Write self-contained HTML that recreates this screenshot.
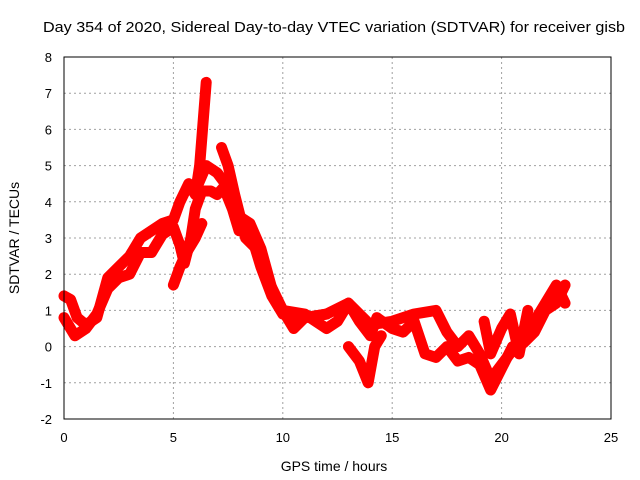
<!DOCTYPE html>
<html><head><meta charset="utf-8"><style>
body{margin:0;background:#fff}
svg{display:block;font-family:"Liberation Sans",sans-serif}
</style></head><body>
<svg id="chart" width="640" height="480">
<text x="43" y="32" font-size="15" textLength="582" lengthAdjust="spacingAndGlyphs">Day 354 of 2020, Sidereal Day-to-day VTEC variation (SDTVAR) for receiver gisb</text>
<text x="334" y="471" font-size="14" text-anchor="middle">GPS time / hours</text>
<text transform="translate(19,238) rotate(-90)" font-size="14" text-anchor="middle">SDTVAR / TECUs</text>
<g id="grid"></g><g id="ticks"></g><g id="series"></g>
<rect x="64" y="57" width="547" height="362" fill="none" stroke="#000" stroke-width="1"/>
</svg>
<script>
const xTicks=[0,5,10,15,20,25];
const yTicks=[-2,-1,0,1,2,3,4,5,6,7,8];
const traceA=[[0,1.4],[0.3,1.3],[0.6,0.8],[1,0.6],[1.5,0.8],[2,1.9],[2.5,2.2],[3,2.5],[3.5,3.0],[4,3.2],[4.5,3.4],[5,3.5],[5.3,4.0],[5.7,4.5],[6,4.2],[6.2,5.0],[6.5,7.3]];
const traceB=[[0,0.8],[0.5,0.3],[1,0.5],[1.5,0.9],[2,1.6],[2.5,1.9],[3,2.0],[3.5,2.6],[4,2.6],[4.5,3.1],[5,3.3],[5.3,2.8],[5.5,2.3],[5.8,3.0],[6,3.8],[6.3,4.3],[6.7,4.3],[7,4.2],[7.3,4.4],[7.7,3.8],[8,3.2],[8.5,3.2],[9,2.2],[9.5,1.4],[10,0.9],[11,0.8],[12,0.9]];
const traceC=[[5,1.7],[5.3,2.2],[5.6,2.6],[6,3.0],[6.3,3.4]];
const traceD=[[6,4.3],[6.5,5.0],[7,4.8],[7.5,4.4],[8,3.6],[8.5,3.4],[9,2.7],[9.5,1.6],[10,1.0],[10.5,0.5],[11,0.8],[12,0.9],[13,1.2],[13.5,0.9],[14,0.6],[15,0.7],[15.5,0.8],[16,0.9],[17,1.0],[17.5,0.4],[18,0.0],[18.5,0.3],[19,-0.2],[19.5,-0.9],[20,-0.5],[20.5,-0.1],[21,0.2],[21.5,0.7],[22,1.2],[22.5,1.7],[22.9,1.2]];
const traceE=[[7.2,5.5],[7.5,5.0],[7.8,4.2],[8.3,3.0],[8.8,2.7],[9.2,2.0],[10,1.0],[11,0.9],[12,0.5],[12.5,0.7],[13,1.2],[13.5,0.7],[14,0.3],[14.3,0.8],[15,0.5],[15.5,0.4],[16,0.7],[16.5,-0.2],[17,-0.3],[17.5,0.0],[18,-0.4],[18.5,-0.3],[19,-0.5],[19.5,-1.2],[20,-0.6],[20.5,0.0],[21,0.1],[21.5,0.4],[22,1.0],[22.5,1.2],[22.9,1.7]];
const traceF=[[13,0.0],[13.5,-0.4],[13.9,-1.0],[14.2,0.0],[14.5,0.3]];
const traceG=[[19.2,0.7],[19.5,-0.2],[20,0.5],[20.4,0.9],[20.8,-0.2],[21.2,1.0]];
const traces=[traceA,traceB,traceC,traceD,traceE,traceF,traceG];
const X=v=>64+v*(547/25), Y=v=>419-(v+2)*(362/10);
const NS="http://www.w3.org/2000/svg";
const g=document.getElementById('grid'),t=document.getElementById('ticks'),s=document.getElementById('series');
function mk(tag,at,p){const e=document.createElementNS(NS,tag);for(const k in at)e.setAttribute(k,at[k]);p.appendChild(e);return e;}
xTicks.forEach(v=>{
 if(v>0&&v<25){const l=mk('line',{x1:X(v),x2:X(v),y1:57,y2:419,stroke:'#a0a0a0','stroke-dasharray':'2,3'},g);
 
 }
 const tx=mk('text',{x:X(v),y:442,'font-size':13,'text-anchor':'middle'},t);tx.textContent=v;
 
 
});
yTicks.forEach(v=>{
 if(v>-2&&v<8){const l=mk('line',{x1:64,x2:611,y1:Y(v),y2:Y(v),stroke:'#a0a0a0','stroke-dasharray':'2,3'},g);
 
 }
 const tx=mk('text',{x:52,y:Y(v)+5,'font-size':13,'text-anchor':'end'},t);tx.textContent=v;
 
 
});
traces.forEach(tr=>{
 const p=mk('polyline',{points:tr.map(d=>X(d[0])+','+Y(d[1])).join(' '),fill:'none',stroke:'#ff0000','stroke-width':11,'stroke-linejoin':'round','stroke-linecap':'round'},s);
 
 
});
</script>
</body></html>
